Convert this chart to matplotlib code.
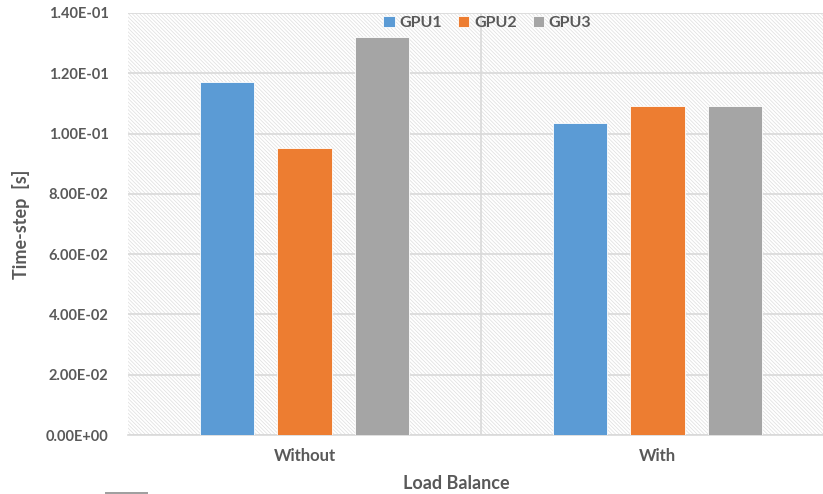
import numpy as np
import matplotlib.pyplot as plt
from matplotlib.ticker import FuncFormatter, MultipleLocator
from matplotlib.patches import Rectangle

plt.rcParams['font.family'] = ['Lato', 'DejaVu Sans']
plt.rcParams['hatch.linewidth'] = 0.5

categories = ["Without", "With"]
series = ["GPU1", "GPU2", "GPU3"]
gpu1 = [0.1171, 0.1035]
gpu2 = [0.0952, 0.1092]
gpu3 = [0.1320, 0.1092]
colors = ["#5B9BD5", "#ED7D31", "#A5A5A5"]

fig = plt.figure(figsize=(8.23, 4.94), dpi=100)
ax = fig.add_axes([128/823, 1-435/494, 706/823, 422/494])

x = np.arange(len(categories))
w = 0.153
off = [-0.22, 0.0, 0.22]
for vals, o, c, lab in zip([gpu1, gpu2, gpu3], off, colors, series):
    ax.bar(x + o, vals, w, color=c, label=lab, edgecolor='white', linewidth=0.6, zorder=3)

# hatched background
ax.add_patch(Rectangle((0, 0), 1, 1, transform=ax.transAxes, facecolor='white',
                       edgecolor='#dedede', linewidth=0, hatch='\\' * 9, zorder=0))

ax.set_xlim(-0.5, 1.5)
ax.set_ylim(0, 0.14)
ax.yaxis.set_major_locator(MultipleLocator(0.02))
ax.yaxis.set_major_formatter(FuncFormatter(lambda v, p: f"{v:.2E}"))
ax.set_xticks(x)
ax.set_xticklabels(categories)
ax.grid(axis='y', color='#d9d9d9', linewidth=1.2, zorder=1)
ax.axvline(0.5, color='#d9d9d9', linewidth=1.2, zorder=1)
for s in ['top', 'right', 'left']:
    ax.spines[s].set_visible(False)
ax.spines['bottom'].set_color('#d9d9d9')
ax.spines['bottom'].set_linewidth(1.2)
ax.tick_params(length=0, colors='#595959')
ax.tick_params(axis='y', labelsize=10.5, pad=14)
ax.tick_params(axis='x', labelsize=12, pad=9)
for t in ax.get_xticklabels() + ax.get_yticklabels():
    t.set_fontweight('bold')

ax.set_ylabel("Time-step  [s]", fontsize=13, fontweight='bold', color='#595959')
ax.yaxis.set_label_coords(-(128-21)/706, 0.5)
ax.yaxis.label.set_va('center')
ax.set_xlabel("Load Balance", fontsize=13, fontweight='bold', color='#595959')
ax.xaxis.set_label_coords((456-128)/706, -(483-435)/422)
ax.xaxis.label.set_va('center')

leg = ax.legend(loc='center', bbox_to_anchor=(0.509, 0.977), ncol=3, frameon=False,
                handlelength=0.7, handleheight=0.7, handletextpad=0.3, columnspacing=1.0,
                prop={'family': 'Lato', 'weight': 'bold', 'size': 11.5})
for t in leg.get_texts():
    t.set_color('#595959')

# small gray mark at bottom-left edge
fig.add_artist(Rectangle((105/823, 0), 43/823, 2/494, transform=fig.transFigure,
                         facecolor='#a0a0a0', edgecolor='none'))

fig.savefig("out.png", dpi=100)
